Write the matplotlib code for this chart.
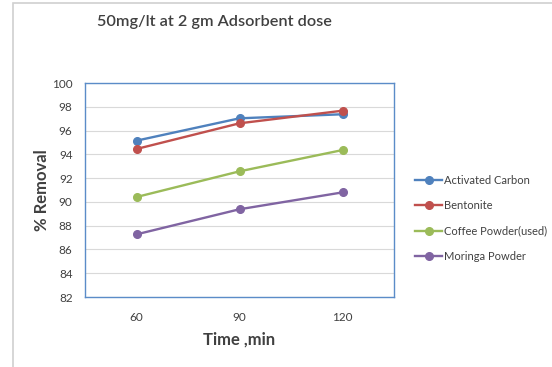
import matplotlib.pyplot as plt
from matplotlib.patches import Rectangle

plt.rcParams['font.family'] = ['Lato', 'DejaVu Sans']

# contact time (min) and % removal for each adsorbent
times = ['60', '90', '120']
activated_carbon = [95.15, 97.03, 97.37]
bentonite = [94.45, 96.61, 97.67]
coffee_powder = [90.41, 92.57, 94.36]
moringa_powder = [87.27, 89.38, 90.80]

series = [
    ('Activated Carbon', activated_carbon, '#4F81BD'),
    ('Bentonite', bentonite, '#C0504D'),
    ('Coffee Powder(used)', coffee_powder, '#9BBB59'),
    ('Moringa Powder', moringa_powder, '#8064A2'),
]

fig = plt.figure(figsize=(5.52, 3.67), dpi=100)
fig.patch.set_facecolor('white')

# light frame around the chart area
fig.add_artist(Rectangle((13 / 552, -0.05), 1.0, 1 - 3 / 367 + 0.05,
                         transform=fig.transFigure, fill=False,
                         edgecolor='#D0D0D0', linewidth=1.2))

ax = fig.add_axes([85 / 552, 1 - 297 / 367, 309 / 552, 214 / 367])

x = range(len(times))
for name, vals, col in series:
    ax.plot(x, vals, color=col, linewidth=1.7, marker='o', markersize=5.5,
            label=name)

ax.set_xlim(-0.5, len(times) - 0.5)
ax.set_ylim(82, 100)
ax.set_yticks(range(82, 101, 2))
ax.set_xticks(list(x))
ax.set_xticklabels(times)
ax.grid(axis='y', color='#D9D9D9', linewidth=0.8)
ax.set_axisbelow(True)
ax.tick_params(length=0, labelsize=8.5, labelcolor='#404040', pad=9)
ax.tick_params(axis='x', pad=11)
for sp in ax.spines.values():
    sp.set_color('#5B8CC8')
    sp.set_linewidth(1.0)

ax.set_ylabel('% Removal', fontsize=12, fontweight='bold', color='#404040',
              labelpad=1)
ax.set_xlabel('Time ,min', fontsize=12, fontweight='bold', color='#404040',
              labelpad=6)

fig.text(97 / 552, 1 - 22 / 367, '50mg/lt at 2 gm Adsorbent dose',
         fontsize=11.7, color='#404040', va='center', ha='left',
         fontweight='semibold')

ax.legend(loc='center left', bbox_to_anchor=(1.055, 0.367), frameon=False,
          fontsize=8, handlelength=2.4, handletextpad=0.15,
          labelspacing=1.3, labelcolor='#404040', borderaxespad=0)

fig.savefig('out.png', dpi=100, facecolor='white')
